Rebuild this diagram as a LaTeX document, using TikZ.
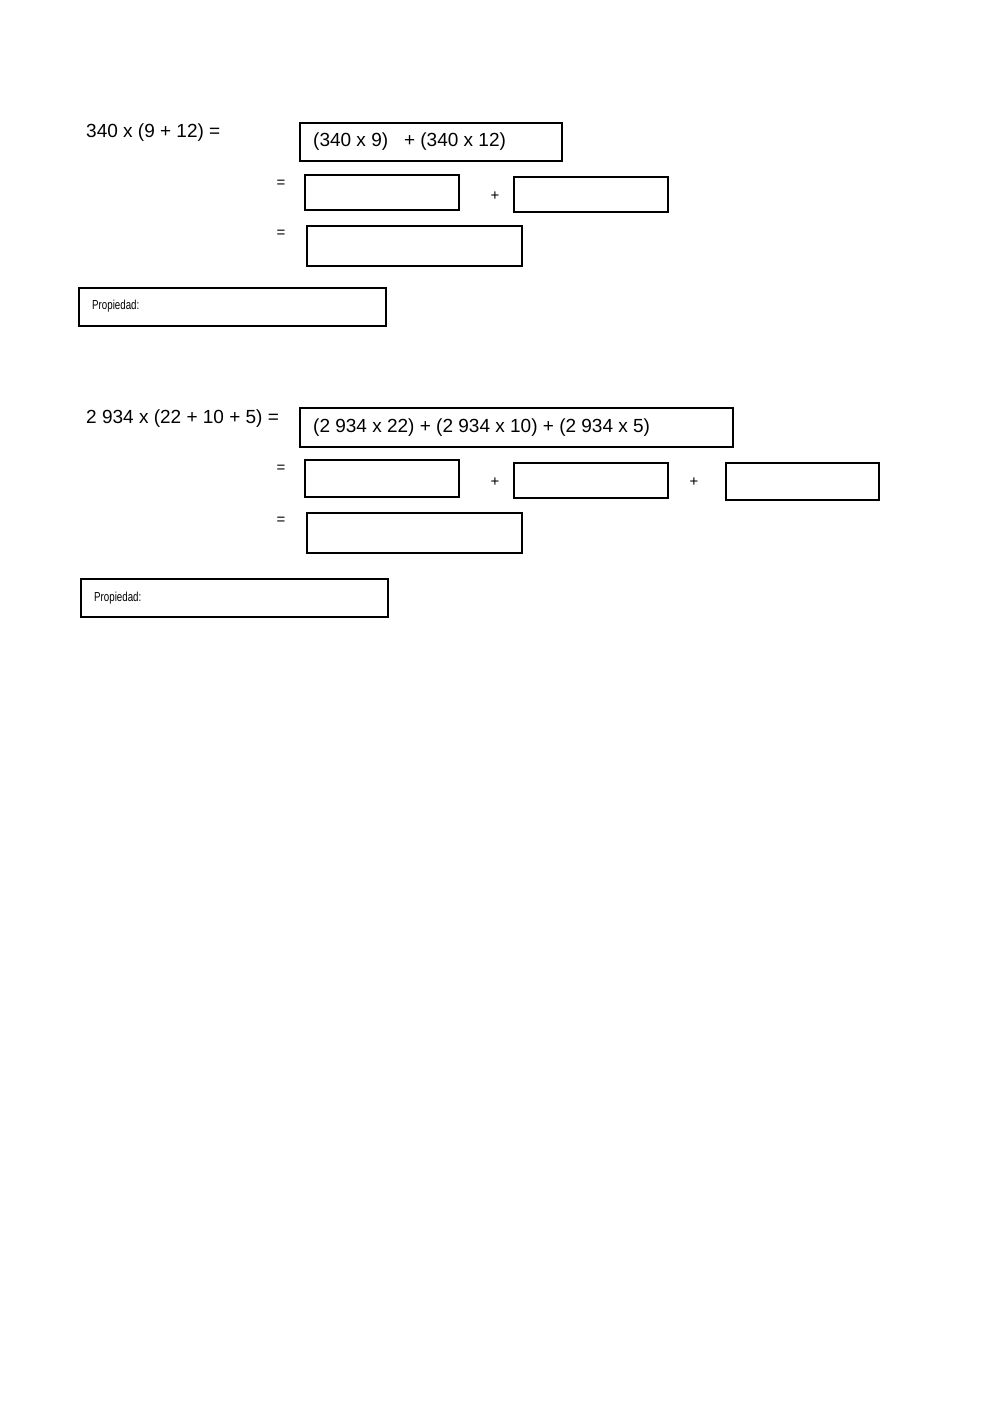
\documentclass[tikz,border=0pt]{standalone}
\usepackage{fontspec}
\setmainfont{Liberation Sans}
\begin{document}
\begin{tikzpicture}[x=1pt,y=-1pt,
 bx/.style={draw,line width=1.2pt},
 t/.style={anchor=west,inner sep=0pt,font=\fontsize{19}{22}\selectfont},
 s/.style={anchor=center,inner sep=0pt,font=\fontsize{15}{18}\selectfont},
 p/.style={anchor=west,inner sep=0pt,font=\fontsize{13}{15}\selectfont\addfontfeature{FakeStretch=0.75}}]
\useasboundingbox[fill=white] (0,0) rectangle (1000,1413);
\node[t] (e1) at (86,133) {340 x (9 + 12) =};
\draw[bx] (300,123) rectangle (562,161);
\node[t] (d1) at (313,142) {(340 x 9)\ \ \ + (340 x 12)};
\node[s] (q1) at (281,184) {=};
\draw[bx] (305,175) rectangle (459,210);
\node[s] (pl1) at (495,196) {+};
\draw[bx] (514,177) rectangle (668,212);
\node[s] (q2) at (281,234) {=};
\draw[bx] (307,226) rectangle (522,266);
\draw[bx] (79,288) rectangle (386,326);
\node[p] (pr1) at (92,306) {Propiedad:};
\node[t] (e2) at (86,419) {2 934 x (22 + 10 + 5) =};
\draw[bx] (300,408) rectangle (733,447);
\node[t] (d2) at (313,428) {(2 934 x 22) + (2 934 x 10) + (2 934 x 5)};
\node[s] (q3) at (281,469) {=};
\draw[bx] (305,460) rectangle (459,497);
\node[s] (pl2) at (495,482) {+};
\draw[bx] (514,463) rectangle (668,498);
\node[s] (pl3) at (694,482) {+};
\draw[bx] (726,463) rectangle (879,500);
\node[s] (q4) at (281,521) {=};
\draw[bx] (307,513) rectangle (522,553);
\draw[bx] (81,579) rectangle (388,617);
\node[p] (pr2) at (94,598) {Propiedad:};
\end{tikzpicture}
\end{document}
